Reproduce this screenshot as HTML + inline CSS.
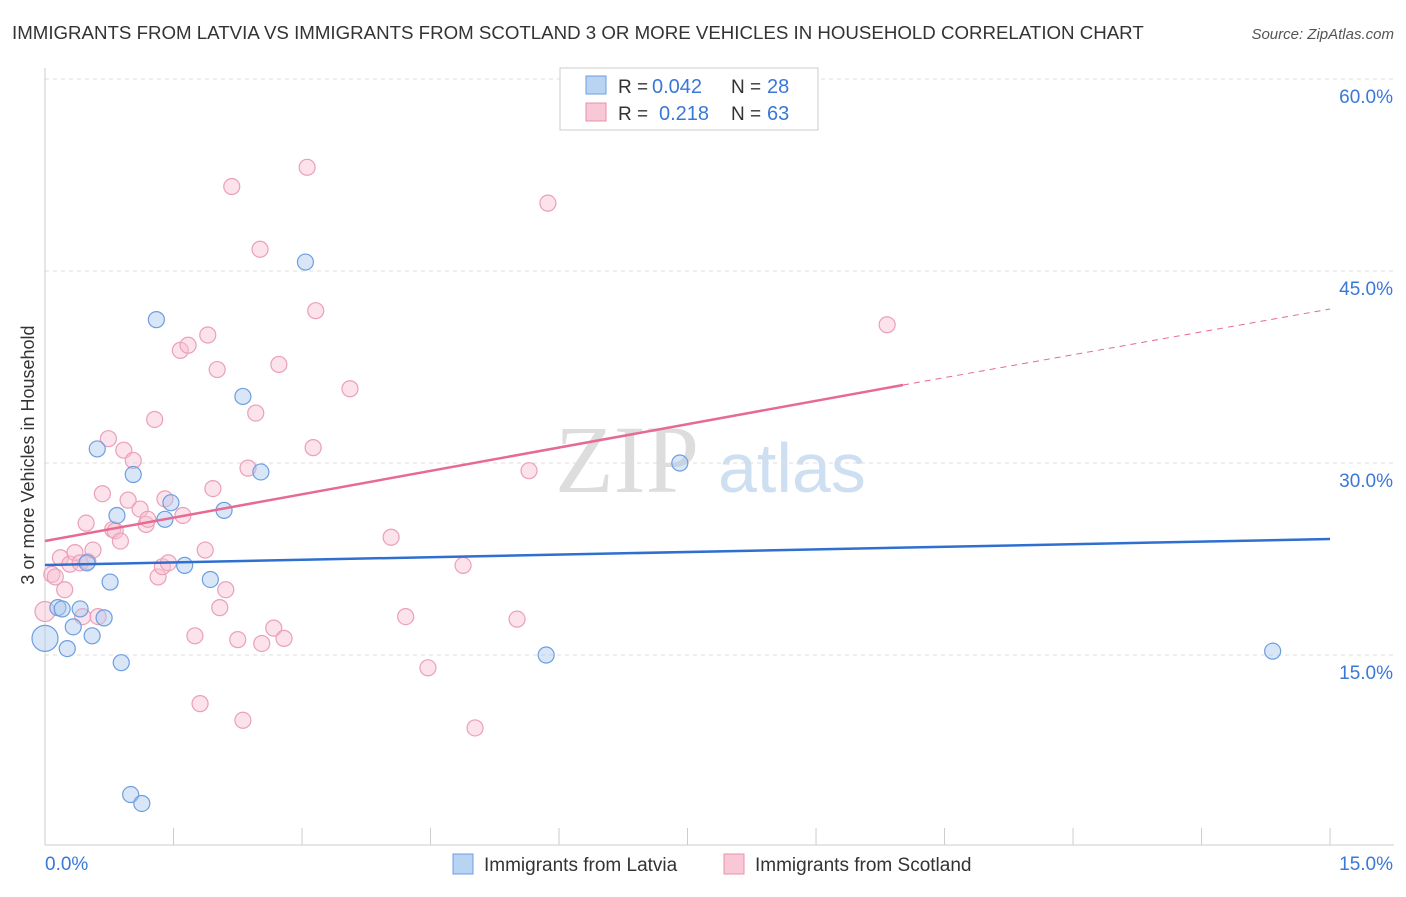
<!DOCTYPE html>
<html><head><meta charset="utf-8"><style>
body{margin:0;background:#fff;font-family:"Liberation Sans",sans-serif}
</style></head><body>
<svg id="c" width="1406" height="892" xmlns="http://www.w3.org/2000/svg">
<text x="12" y="39" font-size="18.7" fill="#333">IMMIGRANTS FROM LATVIA VS IMMIGRANTS FROM SCOTLAND 3 OR MORE VEHICLES IN HOUSEHOLD CORRELATION CHART</text>
<text x="1394" y="39" font-size="15" fill="#555" font-style="italic" text-anchor="end">Source: ZipAtlas.com</text>
<text x="555" y="492" font-size="96" fill="#ddd" font-family="Liberation Serif">ZIP</text>
<text x="718" y="492" font-size="70" fill="#cfdff2">atlas</text>
<text x="34" y="455" font-size="18" fill="#333" transform="rotate(-90 34 455)" text-anchor="middle">3 or more Vehicles in Household</text>
<g id="grid"></g><g id="marks"></g>
<g>
<rect x="560" y="68" width="258" height="62" fill="#fff" stroke="#ccc"/>
<rect x="586" y="76" width="20" height="18" fill="#b9d3f3" stroke="#6c9ee0"/>
<rect x="586" y="103" width="20" height="18" fill="#f9c8d6" stroke="#e890aa"/>
<text x="618" y="93" font-size="19" fill="#333">R =</text>
<text x="652" y="93" font-size="20" fill="#3a78d8">0.042</text>
<text x="731" y="93" font-size="19" fill="#333">N =</text>
<text x="767" y="93" font-size="20" fill="#3a78d8">28</text>
<text x="618" y="120" font-size="19" fill="#333">R =</text>
<text x="659" y="120" font-size="20" fill="#3a78d8">0.218</text>
<text x="731" y="120" font-size="19" fill="#333">N =</text>
<text x="767" y="120" font-size="20" fill="#3a78d8">63</text>
</g>
<g>
<rect x="453" y="854" width="20" height="20" fill="#b9d3f3" stroke="#6c9ee0"/>
<text x="484" y="871" font-size="19" fill="#333">Immigrants from Latvia</text>
<rect x="724" y="854" width="20" height="20" fill="#f9c8d6" stroke="#e890aa"/>
<text x="755" y="871" font-size="19" fill="#333">Immigrants from Scotland</text>
</g>
</svg>
<script>
const xTicks=[0,1.5,3,4.5,6,7.5,9,10.5,12,13.5,15];
const yTicks=[15,30,45,60];
const latviaX=[0,0.15,0.2,0.26,0.33,0.41,0.49,0.55,0.61,0.69,0.76,0.84,0.89,1.0,1.03,1.13,1.30,1.40,1.47,1.63,1.93,2.09,2.31,2.52,3.04,5.85,7.41,14.33];
const latviaY=[16.3,18.7,18.6,15.5,17.2,18.6,22.2,16.5,31.1,17.9,20.7,25.9,14.4,4.1,29.1,3.4,41.2,25.6,26.9,22.0,20.9,26.3,35.2,29.3,45.7,15.0,30.0,15.3];
const scotX=[0,0.08,0.12,0.18,0.23,0.29,0.35,0.41,0.44,0.48,0.50,0.56,0.62,0.67,0.74,0.79,0.82,0.88,0.92,0.97,1.03,1.11,1.18,1.20,1.28,1.32,1.37,1.40,1.44,1.58,1.61,1.67,1.75,1.81,1.87,1.90,1.96,2.01,2.04,2.11,2.18,2.25,2.31,2.37,2.46,2.51,2.53,2.67,2.73,2.79,3.06,3.13,3.16,3.56,4.04,4.21,4.47,4.88,5.02,5.51,5.65,5.87,9.83];
const scotY=[18.4,21.3,21.1,22.6,20.1,22.1,23.0,22.2,18.0,25.3,22.3,23.2,18.0,27.6,31.9,24.8,24.7,23.9,31.0,27.1,30.2,26.4,25.2,25.6,33.4,21.1,21.9,27.2,22.2,38.8,25.9,39.2,16.5,11.2,23.2,40.0,28.0,37.3,18.7,20.1,51.6,16.2,9.9,29.6,33.9,46.7,15.9,17.1,37.7,16.3,53.1,31.2,41.9,35.8,24.2,18.0,14.0,22.0,9.3,17.8,29.4,50.3,40.8];
const X=v=>45+v*85.67, Y=v=>847-v*12.8;
const NS='http://www.w3.org/2000/svg';
const g=document.getElementById('grid'),m=document.getElementById('marks');
function el(t,a,p){const e=document.createElementNS(NS,t);for(const k in a)e.setAttribute(k,a[k]);p.appendChild(e);return e;}
yTicks.forEach(v=>{
 const l=el('line',{x1:45,x2:1394,y1:Y(v),y2:Y(v),stroke:'#ddd','stroke-dasharray':'4,4'},g);
 
 
 const t=el('text',{x:1393,y:Y(v)+24,'font-size':19,fill:'#3a78d8','text-anchor':'end'},g);t.textContent=v.toFixed(1)+'%';
 
 
});
el('line',{x1:45,x2:45,y1:68,y2:845,stroke:'#ccc'},g);
el('line',{x1:45,x2:1394,y1:845,y2:845,stroke:'#ccc'},g);
xTicks.forEach(v=>{const l=el('line',{x1:X(v),x2:X(v),y1:828,y2:845,stroke:'#ccc'},g);
 
 });
let t=el('text',{x:45,y:870,'font-size':19,fill:'#3a78d8'},g);t.textContent='0.0%';


t=el('text',{x:1393,y:870,'font-size':19,fill:'#3a78d8','text-anchor':'end'},g);t.textContent='15.0%';


scotX.forEach((x,i)=>{const c=el('circle',{cx:X(x),cy:Y(scotY[i]),r:i==0?10:8,fill:'rgba(249,190,208,0.45)',stroke:'#eaa0b8','stroke-width':1.2},m);
 
 });
latviaX.forEach((x,i)=>{const c=el('circle',{cx:X(x),cy:Y(latviaY[i]),r:i==0?13:8,fill:'rgba(170,200,240,0.45)',stroke:'#6c9ee0','stroke-width':1.2},m);
 
 });
let l=el('line',{x1:X(0),y1:565,x2:X(15),y2:539,stroke:'#2f6fd0','stroke-width':2.5},m);


l=el('line',{x1:X(0),y1:541,x2:903,y2:385,stroke:'#e66a92','stroke-width':2.5},m);


l=el('line',{x1:903,y1:385,x2:X(15),y2:309,stroke:'#e66a92','stroke-width':1,'stroke-dasharray':'6,5'},m);


</script>
</body></html>
